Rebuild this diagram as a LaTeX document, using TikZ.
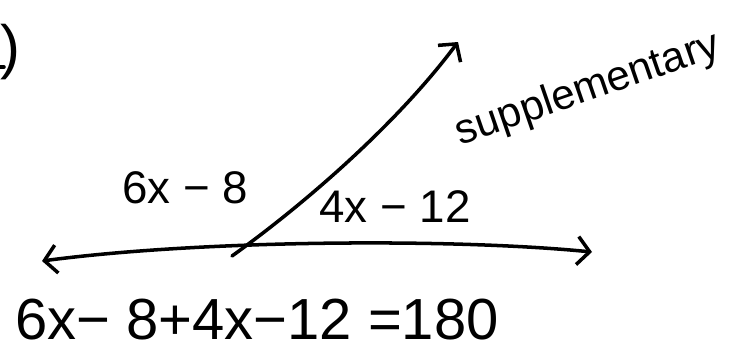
\documentclass[tikz,border=0pt]{standalone}
\usepackage{fontspec}
\setmainfont{Liberation Sans}
\usetikzlibrary{arrows.meta,positioning}

\begin{document}
\begin{tikzpicture}[x=0.02cm,y=-0.02cm,
  hand/.style={line width=2pt,line cap=round,line join=round},
  tip/.style={-{Straight Barb[length=7pt,width=16pt,line width=2pt]}},
  tips/.style={{Straight Barb[length=7pt,width=16pt,line width=2pt]}-{Straight Barb[length=7pt,width=16pt,line width=2pt]}}]
\useasboundingbox (0,0) rectangle (737,356);
% problem number, only its bracket is left
\node[inner sep=0pt,font=\fontsize{34}{40}\selectfont] (num) at (10,52) {)};
\draw[hand] (0,67) -- (4,67);
% the line and the ray
\coordinate (L) at (42,261);
\coordinate (R) at (592,252);
\coordinate (V) at (232,256);
\coordinate (T) at (458,42);
\draw[hand,tips] (L) .. controls (200,240) and (450,238) .. (R);
\draw[hand,tip] (V) .. controls (310,200) and (400,120) .. (T);
% angle labels
\node[font=\fontsize{26}{30}\selectfont] (left) at (185,188) {6x − 8};
\node[font=\fontsize{26}{30}\selectfont] (right) at (395,207) {4x − 12};
\node[font=\fontsize{24}{28}\selectfont,rotate=19] (supp) at (588,90) {supplementary};
% the equation
\node[font=\fontsize{33}{40}\selectfont] (eq) at (257,320) {6x− 8+4x−12 =180};
\end{tikzpicture}
\end{document}
